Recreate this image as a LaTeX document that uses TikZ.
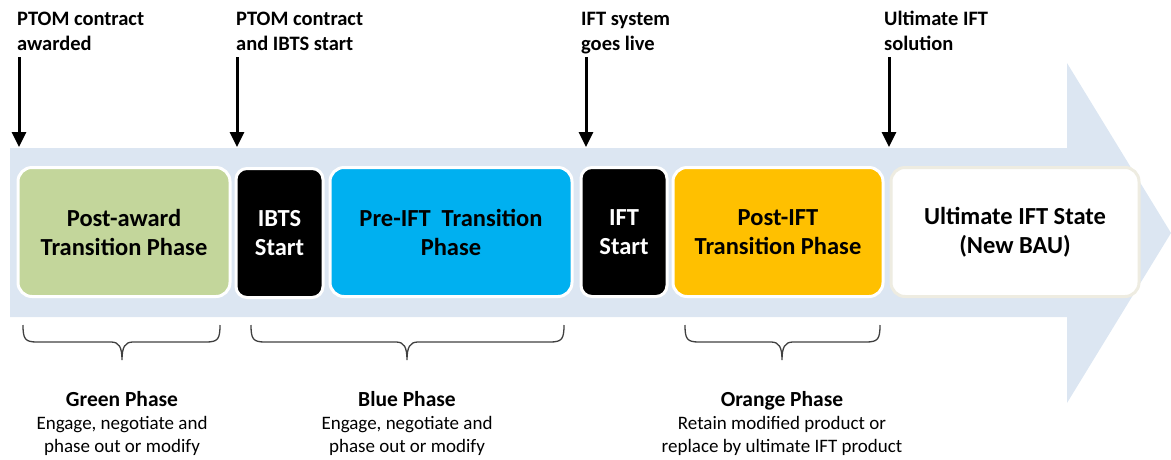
\documentclass[tikz,border=0pt]{standalone}
\usepackage{fontspec}
\setmainfont{Carlito}
\usepackage{tikz}
\usetikzlibrary{arrows.meta,positioning}

\definecolor{arrowbg}{HTML}{DCE6F2}
\definecolor{greenph}{HTML}{C3D69B}
\definecolor{blueph}{HTML}{00B0F0}
\definecolor{orangeph}{HTML}{FFC000}
\definecolor{bauedge}{HTML}{EEECE1}
\definecolor{bracegray}{HTML}{404040}

\tikzset{
  phasebox/.style={draw=white, line width=3pt, rounded corners=14pt, minimum height=129pt,
    align=center, inner sep=0pt, font=\bfseries\fontsize{24.5}{29}\selectfont},
  startbox/.style={phasebox, fill=black, text=white, rounded corners=11pt},
  milestone/.style={anchor=base west, align=left, inner sep=0pt,
    font=\bfseries\fontsize{20.5}{25}\selectfont},
  marker/.style={-{Triangle[width=14pt,length=15pt]}, line width=3pt},
  phasebrace/.style={draw=bracegray, line width=1.3pt},
  phasenote/.style={anchor=base, align=center, inner sep=0pt,
    font=\fontsize{19}{23}\selectfont},
}
\newcommand{\notetitle}[1]{{\bfseries\fontsize{21.5}{23}\selectfont #1}}

\begin{document}
\begin{tikzpicture}[x=1pt, y=-1pt]
  \useasboundingbox (0,0) rectangle (1171,459);

  \fill[arrowbg] (10,148) -- (1067,148) -- (1067,63) -- (1171,233)
    -- (1067,403) -- (1067,317) -- (10,317) -- cycle;

  \node[phasebox, fill=greenph, minimum width=212pt] (green) at (124,232) {Post-award\\Transition Phase};
  \node[startbox, minimum width=87pt] (ibts) at (279.5,233) {IBTS\\Start};
  \node[phasebox, fill=blueph, minimum width=242pt] (preift) at (451,232) {Pre-IFT\ \ Transition\\Phase};
  \node[startbox, minimum width=86pt] (ift) at (624,232) {IFT\\Start};
  \node[phasebox, fill=orangeph, minimum width=210pt] (postift) at (778,232) {Post-IFT\\Transition Phase};
  \node[phasebox, fill=white, draw=bauedge, minimum width=248pt] (ultimate) at (1015,232) {Ultimate IFT State\\(New BAU)};

  \node[milestone] (awarded) at (17,50) {PTOM contract\\awarded};
  \node[milestone] (ibtsgo) at (236,50) {PTOM contract\\and IBTS start};
  \node[milestone] (live) at (581,50) {IFT system\\goes live};
  \node[milestone] (solution) at (884,50) {Ultimate IFT\\solution};

  \foreach \x [count=\i] in {19,237,586,889} {
    \coordinate (top\i) at (\x,57);
    \coordinate (tip\i) at (\x,147);
    \draw[marker] (top\i) -- (tip\i);
  }

  \foreach \l/\m/\r in {23/122/220, 251/407/564, 685/782/880} {
    \draw[phasebrace] (\l,325) .. controls (\l,339) and (\l+2,342) .. (\l+14,342)
      -- (\m-11,342) .. controls (\m-3,342) and (\m,347) .. (\m,360)
      .. controls (\m,347) and (\m+3,342) .. (\m+11,342)
      -- (\r-14,342) .. controls (\r-2,342) and (\r,339) .. (\r,325);
  }

  \node[phasenote] (greennote) at (122,452) {\notetitle{Green Phase}\\Engage, negotiate and\\phase out or modify};
  \node[phasenote] (bluenote) at (407,452) {\notetitle{Blue Phase}\\Engage, negotiate and\\phase out or modify};
  \node[phasenote] (orangenote) at (782,452) {\notetitle{Orange Phase}\\Retain modified product or\\replace by ultimate IFT product};

\end{tikzpicture}
\end{document}
